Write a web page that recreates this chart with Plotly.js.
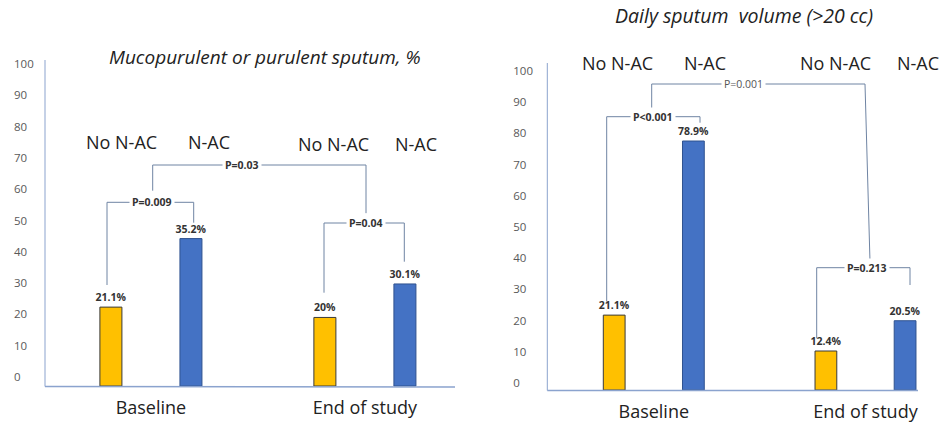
<!DOCTYPE html>
<html>
<head>
<meta charset="utf-8">
<script src="https://cdn.plot.ly/plotly-3.0.1.min.js"></script>
<style>html,body{margin:0;padding:0;background:#fff;}#chart{width:943px;height:426px;}</style>
</head>
<body>
<div id="chart"></div>
<script>
// ---- data ----
const categories = ['Baseline', 'End of study'];
const seriesNames = ['No N-AC', 'N-AC'];
const mucoNoNAC = [25.2, 21.9];
const mucoNAC = [47.1, 32.6];
const mucoNoNACLabels = ['21.1%', '20%'];
const mucoNACLabels = ['35.2%', '30.1%'];
const dailyNoNAC = [24.0, 12.5];
const dailyNAC = [79.8, 22.2];
const dailyNoNACLabels = ['21.1%', '12.4%'];
const dailyNACLabels = ['78.9%', '20.5%'];
const yTickVals = [0, 10, 20, 30, 40, 50, 60, 70, 80, 90, 100];
const titleLeft = 'Mucopurulent or purulent sputum, %';
const titleRight = 'Daily sputum  volume (>20 cc)';
const pLeft = ['P=0.009', 'P=0.03', 'P=0.04'];
const pRight = ['P&lt;0.001', 'P=0.001', 'P=0.213'];

// ---- helpers ----
const W = 943, H = 426;
const px = x => x / W;
const py = y => 1 - y / H;
const YELLOW = '#FFC000', BLUE = '#4472C4';
const FONT = 'Open Sans, Noto Sans, sans-serif';

function barTrace(xa, ya, vals, labels, color, line, name) {
  return {
    type: 'bar', x: categories, y: vals, name: name, xaxis: xa, yaxis: ya,
    text: labels, texttemplate: '<b>%{text}</b>', textposition: 'outside',
    constraintext: 'none',
    textfont: {family: FONT, size: 10.5, color: '#333333'},
    marker: {color: color, line: {color: line, width: 1}},
    cliponaxis: false, showlegend: false, hoverinfo: 'skip'
  };
}

const data = [
  barTrace('x', 'y', mucoNoNAC, mucoNoNACLabels, YELLOW, '#3a3a3a', seriesNames[0]),
  barTrace('x', 'y', mucoNAC, mucoNACLabels, BLUE, '#2F528F', seriesNames[1]),
  barTrace('x2', 'y2', dailyNoNAC, dailyNoNACLabels, YELLOW, '#3a3a3a', seriesNames[0]),
  barTrace('x2', 'y2', dailyNAC, dailyNACLabels, BLUE, '#2F528F', seriesNames[1])
];

const axisLine = '#8BA3CE';
function xAxis(domain, range, anchor) {
  return {
    domain: domain, range: range, anchor: anchor, type: 'category',
    showline: false, showgrid: false, zeroline: false,
    ticks: '', tickfont: {family: FONT, size: 18, color: '#222222'}, ticklabelstandoff: 0,
    fixedrange: true
  };
}
function yAxis(domain, range, anchor, standoff, shift) {
  return {
    domain: domain, range: range, anchor: anchor,
    showline: false, showgrid: false, zeroline: false,
    tickvals: yTickVals, ticks: '', tickfont: {family: FONT, size: 11.5, color: '#595959'},
    ticklabelposition: 'inside', ticklabelstandoff: standoff, ticklabelshift: shift,
    fixedrange: true
  };
}

const bracketColor = '#6F84A3';
function pathShape(pts, color, width) {
  let d = 'M' + px(pts[0][0]) + ',' + py(pts[0][1]);
  for (let i = 1; i < pts.length; i++) d += ' L' + px(pts[i][0]) + ',' + py(pts[i][1]);
  return {type: 'path', xref: 'paper', yref: 'paper', path: d, line: {color: color, width: width}};
}
const bracket = pts => pathShape(pts, bracketColor, 1);
const shapes = [
  // axis lines
  pathShape([[45, 60], [45, 386.5]], axisLine, 1),
  pathShape([[45, 386.5], [455, 387]], axisLine, 1.5),
  pathShape([[547.3, 63], [547.3, 390.5]], axisLine, 1),
  pathShape([[547.3, 390.5], [918, 390.5]], axisLine, 1.5),
  // p-value brackets
  bracket([[107, 285], [107, 202.3], [193.7, 202.3], [193.7, 222.7]]),
  bracket([[152.7, 190.7], [152.7, 165], [366, 165], [366, 213.3]]),
  bracket([[324, 292.7], [324, 223], [404.3, 223], [404.3, 261.7]]),
  bracket([[606.7, 301.7], [606.7, 116.7], [700, 116.7], [700, 122.7]]),
  bracket([[651.7, 110], [651.7, 84], [865, 84], [870, 261.7]]),
  bracket([[816.7, 338.3], [816.7, 267.7], [910, 267.7], [910, 285]])
];

function ann(text, x, y, size, opts) {
  return Object.assign({
    text: text, xref: 'paper', yref: 'paper', x: px(x), y: py(y),
    xanchor: 'center', yanchor: 'middle', showarrow: false,
    font: {family: FONT, size: size, color: '#222222'}
  }, opts || {});
}
function pAnn(text, x, y, bold, color) {
  return ann(bold ? '<b>' + text + '</b>' : text, x, y, 10.5,
    {bgcolor: '#ffffff', borderpad: 2, font: {family: FONT, size: 10.5, color: color}});
}

const annotations = [
  ann(titleLeft, 265, 57.3, 19, {font: {family: FONT, size: 19, color: '#222222', style: 'italic'}}),
  ann(titleRight, 743.5, 16, 19.5, {font: {family: FONT, size: 19.5, color: '#222222', style: 'italic'}}),
  ann(seriesNames[0], 121.7, 141.7, 18), ann(seriesNames[1], 209.3, 141.7, 18),
  ann(seriesNames[0], 333.3, 144.3, 18), ann(seriesNames[1], 416, 144.3, 18),
  ann(seriesNames[0], 617.3, 63.3, 18), ann(seriesNames[1], 705, 63.3, 18),
  ann(seriesNames[0], 835, 63.3, 18), ann(seriesNames[1], 918.3, 63.3, 18),
  pAnn(pLeft[0], 151.7, 202.3, true, '#333333'),
  pAnn(pLeft[1], 241.7, 165, true, '#333333'),
  pAnn(pLeft[2], 366, 223, true, '#333333'),
  pAnn(pRight[0], 652.7, 116.7, true, '#333333'),
  pAnn(pRight[1], 743.3, 84, false, '#555555'),
  pAnn(pRight[2], 867.3, 267.7, true, '#333333')
];

// left: zero at y=386px, 3.13 px/unit; right: zero at y=390px, 3.12 px/unit
const layout = {
  width: W, height: H, margin: {l: 0, r: 0, t: 0, b: 0},
  paper_bgcolor: '#ffffff', plot_bgcolor: '#ffffff',
  barmode: 'group', bargap: 0.252, bargroupgap: 0.725,
  showlegend: false,
  xaxis: xAxis([45 / W, 455 / W], [-0.495, 1.421], 'y'),
  yaxis: yAxis([1 - 395.39 / H, 1 - 52 / H], [-3, 106.71], 'x', -34, -9),
  xaxis2: xAxis([547.3 / W, 918 / W], [-0.503, 1.248], 'y2'),
  yaxis2: yAxis([1 - 399.36 / H, 1 - 56 / H], [-3, 107.05], 'x2', -37, -7),
  shapes: shapes, annotations: annotations
};

Plotly.newPlot('chart', data, layout, {displayModeBar: false, staticPlot: true});
</script>
</body>
</html>
